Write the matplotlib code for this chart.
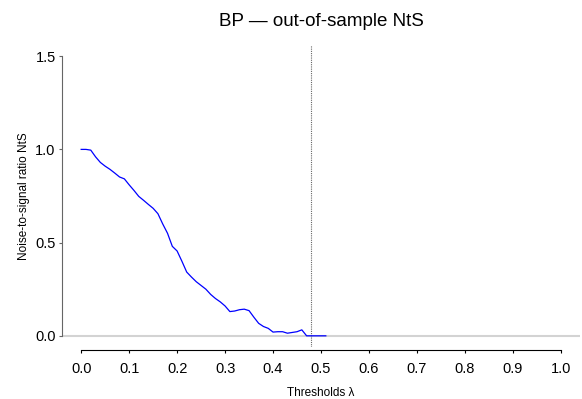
import matplotlib
matplotlib.use('Agg')
import matplotlib.pyplot as plt

# thresholds and out-of-sample noise-to-signal ratio
lam = [0.00, 0.01, 0.02, 0.03, 0.04, 0.05, 0.06, 0.07, 0.08, 0.09,
       0.10, 0.11, 0.12, 0.13, 0.14, 0.15, 0.16, 0.17, 0.18, 0.19,
       0.20, 0.21, 0.22, 0.23, 0.24, 0.25, 0.26, 0.27, 0.28, 0.29,
       0.30, 0.31, 0.32, 0.33, 0.34, 0.35, 0.36, 0.37, 0.38, 0.39,
       0.40, 0.41, 0.42, 0.43, 0.44, 0.45, 0.46, 0.47, 0.48, 0.49,
       0.50, 0.51]
nts = [1.000, 1.000, 0.996, 0.960, 0.930, 0.910, 0.893, 0.873, 0.852, 0.842,
       0.810, 0.780, 0.748, 0.727, 0.705, 0.684, 0.655, 0.600, 0.550, 0.480,
       0.455, 0.400, 0.342, 0.315, 0.290, 0.270, 0.250, 0.222, 0.200, 0.182,
       0.160, 0.130, 0.133, 0.140, 0.143, 0.135, 0.100, 0.067, 0.050, 0.040,
       0.020, 0.022, 0.022, 0.014, 0.018, 0.022, 0.032, 0.000, 0.000, 0.000,
       0.000, 0.000]
cutoff = 0.48
xticks = [0.0, 0.1, 0.2, 0.3, 0.4, 0.5, 0.6, 0.7, 0.8, 0.9, 1.0]
yticks = [0.0, 0.5, 1.0, 1.5]

plt.rcParams['font.family'] = ['Liberation Sans', 'DejaVu Sans']

W, H = 582, 399
fig = plt.figure(figsize=(W / 100, H / 100), dpi=100)
ax = fig.add_axes([62 / W, 1 - 347 / H, (580 - 62) / W, (347 - 45) / H])

ax.axhline(0, color='#d3d3d3', lw=1.5, zorder=1)
ax.axvline(cutoff, color='#666666', lw=0.8, ls=(0, (1, 1)), zorder=2)
ax.plot(lam, nts, color='#0000ff', lw=0.9, zorder=3)

ax.set_xlim(-0.04, 1.04)
ax.set_ylim(-0.06, 1.56)
ax.set_xticks(xticks)
ax.set_xticklabels(['%.1f' % v for v in xticks])
ax.set_yticks(yticks)
ax.set_yticklabels(['%.1f' % v for v in yticks])

for s in ['top', 'right']:
    ax.spines[s].set_visible(False)
ax.spines['left'].set_bounds(0, 1.5)
ax.spines['left'].set_color('#666666')
ax.spines['bottom'].set_bounds(0, 1.0)
ax.spines['bottom'].set_position(('outward', 2))
ax.tick_params(axis='y', length=2.5, color='#666666', labelsize=10.5, pad=2)
ax.tick_params(axis='x', length=2.5, labelsize=10.5, pad=6)

ax.set_title('BP \u2014 out-of-sample NtS', fontsize=13.5, pad=14)
ax.set_xlabel('Thresholds \u03bb', fontsize=8.5, labelpad=8)
ax.set_ylabel('Noise-to-signal ratio NtS', fontsize=8.5, labelpad=4)

fig.savefig('out.png', dpi=100)
